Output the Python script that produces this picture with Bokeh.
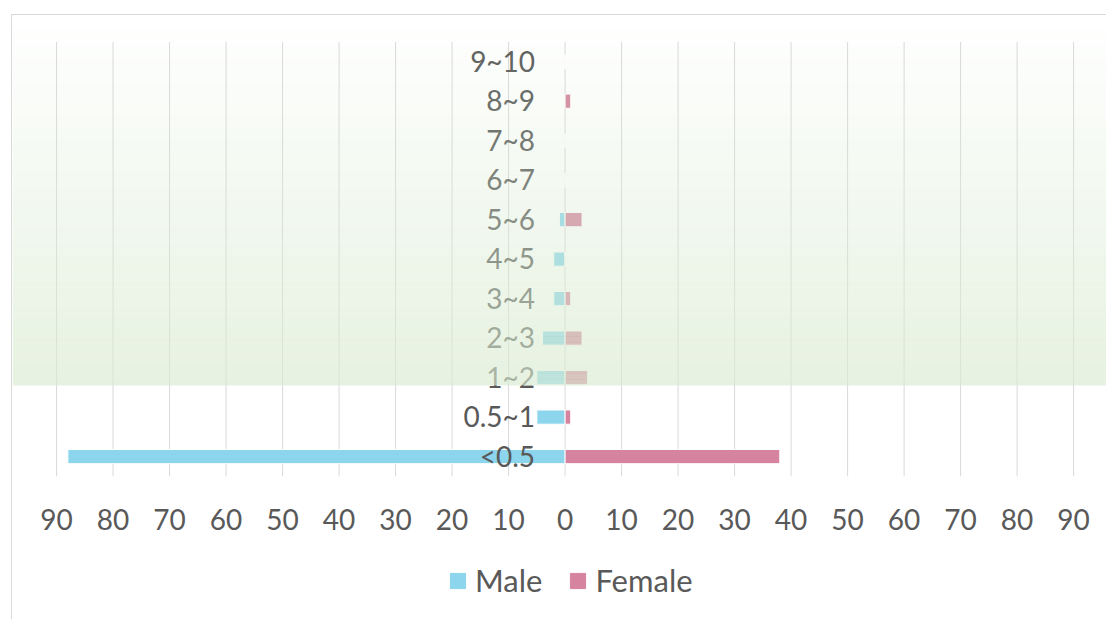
from bokeh.plotting import figure
from bokeh.models import Range1d, FixedTicker, BoxAnnotation, Legend, LegendItem
from bokeh.layouts import column
from bokeh.core.properties import value
from bokeh.embed import file_html
from bokeh.resources import INLINE

categories = ["<0.5", "0.5~1", "1~2", "2~3", "3~4", "4~5", "5~6", "6~7", "7~8", "8~9", "9~10"]
male = [88, 5, 5, 4, 2, 2, 1, 0, 0, 0, 0]
female = [38, 1, 4, 3, 1, 0, 3, 0, 0, 1, 0]
tick_values = [-90, -80, -70, -60, -50, -40, -30, -20, -10, 0, 10, 20, 30, 40, 50, 60, 70, 80, 90]
series_names = ["Male", "Female"]

MALE_COLOR = "#8cd5ec"
FEMALE_COLOR = "#d5839e"
TEXT_COLOR = "#595959"
GRID_COLOR = "#d9d9d9"
BAND_COLOR = "#d9ebd1"
FONT = "Lato"

ys = list(range(len(categories)))
male_left = [-v for v in male]
zeros = [0] * len(categories)

x_range = Range1d(-97.8, 96.0)

p = figure(width=1095, height=526, output_backend="svg", toolbar_location=None,
           x_range=x_range, y_range=Range1d(-0.53, 11.17),
           min_border_left=0, min_border_right=0, min_border_top=0, min_border_bottom=64)
p.margin = (14, 0, 0, 11)
p.styles = {"border-left": "1px solid #d9d9d9", "border-top": "1px solid #d9d9d9"}
p.outline_line_color = None
p.background_fill_color = "white"
p.border_fill_color = "white"
p.yaxis.visible = False
p.xgrid.visible = False
p.ygrid.visible = False

# vertical gridlines from the tick values, spanning the category band
p.segment(x0=tick_values, x1=tick_values, y0=[ys[0] - 0.5] * len(tick_values),
          y1=[ys[-1] + 0.5] * len(tick_values), line_color=GRID_COLOR, line_width=1)

bar_h = 0.36
p.hbar(y=ys, left=male_left, right=zeros, height=bar_h, fill_color=MALE_COLOR,
       line_color="white", line_width=1)
p.hbar(y=ys, left=zeros, right=female, height=bar_h, fill_color=FEMALE_COLOR,
       line_color="white", line_width=1)

p.text(x=zeros, y=ys, text=categories, x_offset=-30, y_offset=-1, text_align="right",
       text_baseline="middle", text_color=TEXT_COLOR, text_font=value(FONT),
       text_font_size="28px")

# x axis
p.xaxis.ticker = FixedTicker(ticks=tick_values)
p.xaxis.major_label_overrides = {t: str(abs(t)) for t in tick_values}
p.xaxis.axis_line_color = None
p.xaxis.major_tick_line_color = None
p.xaxis.minor_tick_line_color = None
p.xaxis.major_label_standoff = 25
p.xaxis.major_label_text_font = FONT
p.xaxis.major_label_text_font_size = "28px"
p.xaxis.major_label_text_color = TEXT_COLOR

# gradient band overlay
band_bottom = 1.80
band_top = 11.17
n = 60
step = (band_top - band_bottom) / n
for i in range(n):
    b = band_bottom + i * step
    t = b + step
    frac = 1 - (i + 0.5) / n
    p.add_layout(BoxAnnotation(bottom=b, top=t, fill_color=BAND_COLOR,
                               fill_alpha=0.66 * frac, line_color=None, line_alpha=0))

# legend strip below the axis (hidden series renderers only feed the legend swatches)
lg = figure(width=1095, height=79, output_backend="svg", toolbar_location=None,
            x_range=x_range, y_range=Range1d(-0.5, 10.5),
            min_border_left=0, min_border_right=0, min_border_top=0, min_border_bottom=0)
lg.margin = (0, 0, 0, 11)
lg.styles = {"border-left": "1px solid #d9d9d9"}
lg.outline_line_color = None
lg.axis.visible = False
lg.grid.visible = False
lm = lg.hbar(y=ys, left=male_left, right=zeros, height=bar_h, fill_color=MALE_COLOR,
             line_color=MALE_COLOR, line_width=1, visible=False)
lf = lg.hbar(y=ys, left=zeros, right=female, height=bar_h, fill_color=FEMALE_COLOR,
             line_color=FEMALE_COLOR, line_width=1, visible=False)
legend = Legend(items=[LegendItem(label=series_names[0], renderers=[lm]),
                       LegendItem(label=series_names[1], renderers=[lf])],
                orientation="horizontal", location=(436, 20))
legend.label_text_font = FONT
legend.label_text_font_size = "31px"
legend.label_text_color = TEXT_COLOR
legend.glyph_width = 19
legend.glyph_height = 19
legend.label_standoff = 8
legend.spacing = 26
legend.margin = 0
legend.padding = 4
legend.border_line_color = None
legend.background_fill_alpha = 0
legend.inactive_fill_alpha = 0
lg.add_layout(legend, "center")

layout = column(p, lg, spacing=0)
open("out.html", "w").write(file_html(layout, INLINE))
